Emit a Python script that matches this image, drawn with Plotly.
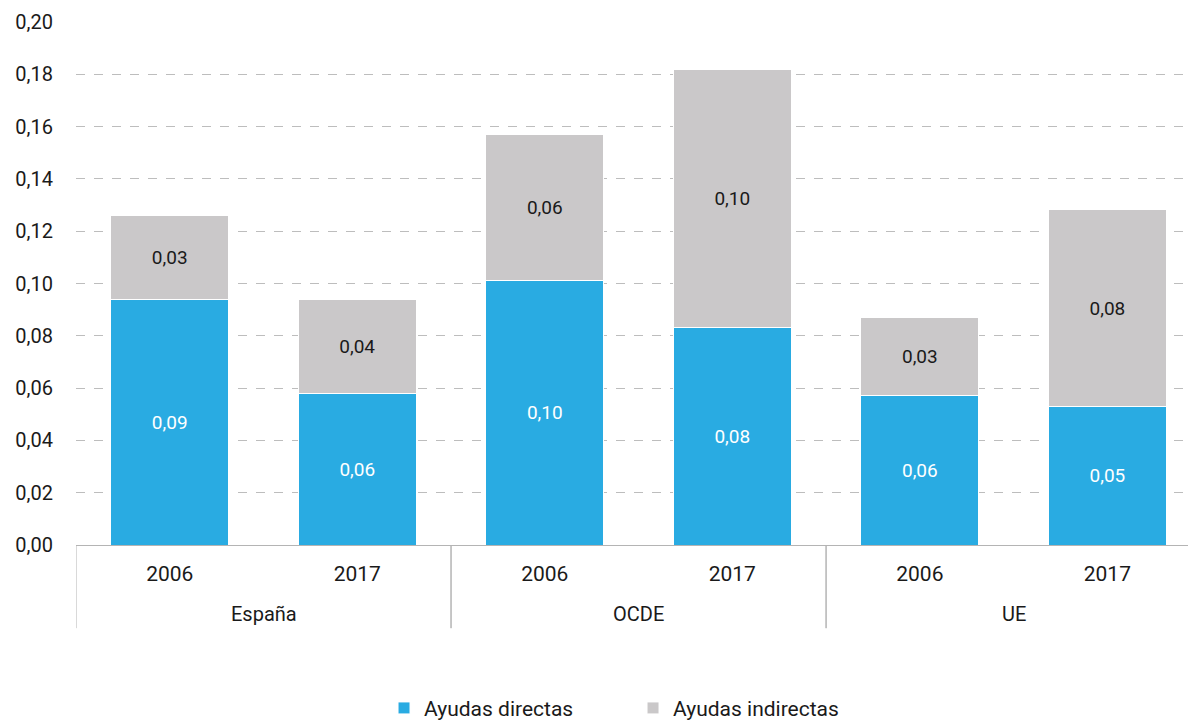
import plotly.graph_objects as go

# Categories: region (outer level) and year (inner level)
regiones = ["España", "España", "OCDE", "OCDE", "UE", "UE"]
anios = ["2006", "2017", "2006", "2017", "2006", "2017"]

# Support as share of GDP
ayudas_directas = [0.094, 0.058, 0.101, 0.083, 0.057, 0.053]
ayudas_indirectas = [0.032, 0.036, 0.056, 0.099, 0.030, 0.0752]

y_ticks = [0.00, 0.02, 0.04, 0.06, 0.08, 0.10, 0.12, 0.14, 0.16, 0.18, 0.20]

FONT = "Roboto, 'DejaVu Sans', sans-serif"
AZUL = "#29ABE2"
GRIS = "#CAC8C9"
LINEA = "#B4B4B4"

# one slot per (region, year) pair
pos = list(range(len(anios)))

fig = go.Figure()
fig.add_trace(go.Bar(
    name="Ayudas directas",
    x=pos,
    y=ayudas_directas,
    marker=dict(color=AZUL, line=dict(color="white", width=1)),
    texttemplate="%{y:.2f}",
    textposition="inside",
    insidetextanchor="middle",
    textfont=dict(color="white", size=19, family=FONT),
))
fig.add_trace(go.Bar(
    name="Ayudas indirectas",
    x=pos,
    y=ayudas_indirectas,
    marker=dict(color=GRIS, line=dict(color="white", width=1)),
    texttemplate="%{y:.2f}",
    textposition="inside",
    insidetextanchor="middle",
    textfont=dict(color="#1a1a1a", size=19, family=FONT),
))

# group labels and dividers of the two-level category axis
grupos = []
for i, r in enumerate(regiones):
    if not grupos or grupos[-1][0] != r:
        grupos.append([r, i, i])
    else:
        grupos[-1][2] = i

annotations = []
shapes = []
for nombre, ini, fin in grupos:
    annotations.append(dict(
        x=(ini + fin) / 2, xref="x",
        y=-0.132, yref="paper", yanchor="middle",
        text=nombre, showarrow=False,
        font=dict(size=20, family=FONT, color="#1a1a1a"),
    ))
    for borde in (ini - 0.5, fin + 0.5):
        shapes.append(dict(
            type="line", xref="x", yref="paper",
            x0=borde, x1=borde, y0=0, y1=-0.159,
            line=dict(color=LINEA, width=1),
        ))

fig.update_layout(
    barmode="stack",
    bargap=0.37,
    width=1188,
    height=721,
    margin=dict(l=76, r=0, t=22, b=176, autoexpand=False),
    paper_bgcolor="white",
    plot_bgcolor="white",
    separators=",.",
    font=dict(family=FONT, size=20, color="#1a1a1a"),
    annotations=annotations,
    shapes=shapes,
    legend=dict(
        orientation="h",
        traceorder="normal",
        x=0.277,
        xanchor="left",
        y=-0.273,
        yanchor="top",
        font=dict(size=21, family=FONT, color="#1a1a1a"),
        entrywidth=204,
        entrywidthmode="pixels",
        itemclick=False,
    ),
    showlegend=True,
)

fig.update_xaxes(
    range=[-0.5, 5.43],
    automargin=False,
    showline=True,
    linecolor=LINEA,
    linewidth=1,
    tickvals=pos,
    ticktext=anios,
    ticks="",
    ticklabelstandoff=10,
    tickfont=dict(size=21, family=FONT, color="#1a1a1a"),
    showgrid=False,
    zeroline=False,
)

fig.update_yaxes(
    range=[0, 0.2],
    tickvals=y_ticks,
    tickformat=".2f",
    automargin=False,
    showgrid=True,
    gridcolor="#BDBDBD",
    griddash="dash",
    gridwidth=1,
    zeroline=False,
    showline=False,
    ticks="",
    ticklabelstandoff=22,
    tickfont=dict(size=20, family=FONT, color="#1a1a1a"),
)

fig.write_html("out.html")
